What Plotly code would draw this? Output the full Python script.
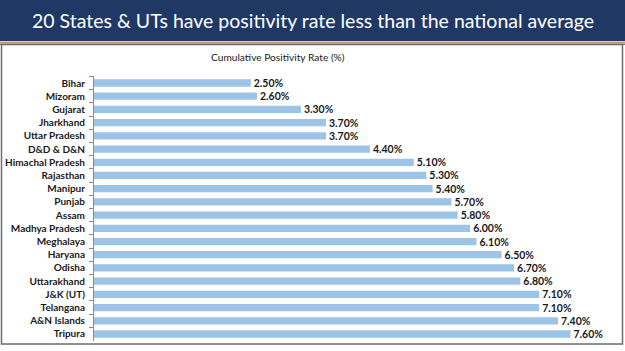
import plotly.graph_objects as go

states = ["Bihar", "Mizoram", "Gujarat", "Jharkhand", "Uttar Pradesh", "D&D & D&N",
          "Himachal Pradesh", "Rajasthan", "Manipur", "Punjab", "Assam", "Madhya Pradesh",
          "Meghalaya", "Haryana", "Odisha", "Uttarakhand", "J&K (UT)", "Telangana",
          "A&N Islands", "Tripura"]
rates = [2.5, 2.6, 3.3, 3.7, 3.7, 4.4, 5.1, 5.3, 5.4, 5.7, 5.8, 6.0, 6.1, 6.5, 6.7,
         6.8, 7.1, 7.1, 7.4, 7.6]

title_text = "20 States & UTs have positivity rate less than the national average"
subtitle_text = "Cumulative Positivity Rate (%)"

W, H = 625, 351
x0_px, px_per_unit = 94, 62.7
xmax = 8.0

fig = go.Figure(go.Bar(
    x=rates, y=states, orientation="h",
    marker=dict(color="#9DC3E6", line=dict(width=0)),
    width=0.55,
    text=[f"{v:.2f}%" for v in rates],
    textposition="outside",
    constraintext="none",
    textfont=dict(family="Lato", size=10.5, color="#1a1a1a", weight="bold"),
    cliponaxis=False,
))

fig.update_layout(
    width=W, height=H,
    margin=dict(l=0, r=0, t=0, b=0),
    paper_bgcolor="white", plot_bgcolor="white",
    showlegend=False,
    xaxis=dict(range=[0, xmax], domain=[x0_px / W, (x0_px + xmax * px_per_unit) / W],
               showgrid=False, zeroline=False, showticklabels=False, showline=False,
               fixedrange=True),
    yaxis=dict(autorange="reversed", domain=[10.4 / H, 274.6 / H],
               showgrid=False, zeroline=False, showline=True, linecolor="#8c8c8c",
               linewidth=1, ticks="outside", tickson="boundaries", ticklen=4,
               tickcolor="#8c8c8c",
               tickfont=dict(family="Lato", size=10, color="#1a1a1a", weight="bold"),
               ticklabelstandoff=6),
    shapes=[
        dict(type="rect", xref="paper", yref="paper", x0=0, x1=1, y0=1 - 41 / H, y1=1,
             fillcolor="#1F3864", line=dict(width=0), layer="below"),
        dict(type="line", xref="paper", yref="paper", x0=0, x1=1,
             y0=1 - 42.5 / H, y1=1 - 42.5 / H, line=dict(color="#C49A78", width=2)),
        dict(type="line", xref="paper", yref="paper", x0=0, x1=1,
             y0=1 - 44.3 / H, y1=1 - 44.3 / H, line=dict(color="#555555", width=1)),
        dict(type="rect", xref="paper", yref="paper", x0=1.5 / W, x1=622.5 / W,
             y0=1 - 344 / H, y1=1 - 44.5 / H, line=dict(color="#6e6e6e", width=1.5),
             fillcolor="rgba(0,0,0,0)"),
    ],
    annotations=[
        dict(text=title_text, xref="paper", yref="paper", x=0.5, y=1 - 20.5 / H,
             showarrow=False, xanchor="center", yanchor="middle",
             font=dict(family="Lato", size=19.5, color="white")),
        dict(text=subtitle_text, xref="paper", yref="paper", x=278 / W, y=1 - 57 / H,
             showarrow=False, xanchor="center", yanchor="middle",
             font=dict(family="Lato", size=10.2, color="#1a1a1a")),
    ],
)

fig.write_html("out.html")
